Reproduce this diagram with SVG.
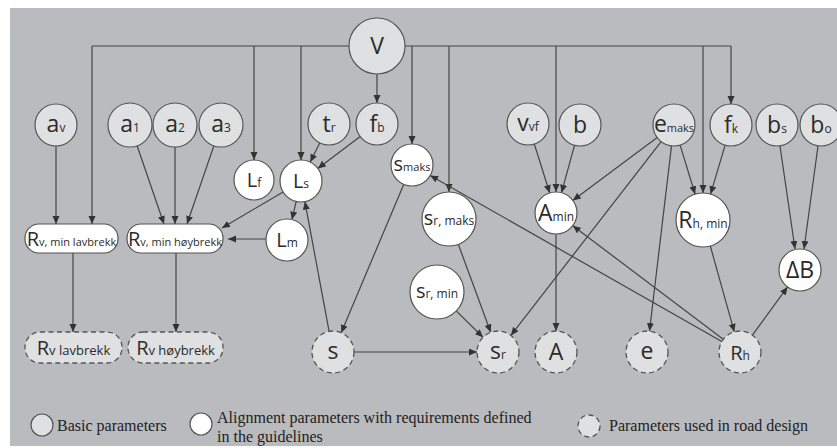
<svg xmlns="http://www.w3.org/2000/svg" width="837" height="448" viewBox="0 0 837 448">
<defs>
<marker id="ah" markerUnits="userSpaceOnUse" markerWidth="9" markerHeight="8" refX="8" refY="3.5" orient="auto">
<path d="M0,0 L8,3.5 L0,7 z" fill="#333"/>
</marker>
<style>
.bg{fill:#b9bbbe}
.basic{fill:#dfe0e2;stroke:#555;stroke-width:1.2}
.req{fill:#ffffff;stroke:#555;stroke-width:1.2}
.used{fill:#dfe0e2;stroke:#555;stroke-width:1.3;stroke-dasharray:5 3.5}
.e{fill:none;stroke:#444;stroke-width:1.2;marker-end:url(#ah)}
.ln{fill:none;stroke:#444;stroke-width:1.2}
text{font-family:"Open Sans","Noto Sans","DejaVu Sans",sans-serif;fill:#2b2b2b;text-anchor:middle}
.big{font-size:23px}
.mid{font-size:20px}
.sub{font-size:12px}
.sm{font-size:11px}
.leg{font-family:"Liberation Serif","DejaVu Serif",serif;font-size:16px;text-anchor:start;fill:#222}
</style>
</defs>
<rect class="bg" x="10" y="8" width="827" height="438"/>

<g id="connectors">
<path class="ln" d="M92,46 H731"/>
<path class="e" d="M92,46 V224"/>
<path class="e" d="M731,46 V104"/>
<path class="e" d="M254,46 V160"/>
<path class="e" d="M301,46 V160"/>
<path class="e" d="M412,46 V144"/>
<path class="e" d="M449,46 V192"/>
<path class="e" d="M556,46 V192"/>
<path class="e" d="M703,46 V193"/>
<path class="e" d="M377,74 V103"/>
<path class="e" d="M56,146 V224"/>
<path class="e" d="M137.1,145.8 L164,224"/>
<path class="e" d="M175,147 V224"/>
<path class="e" d="M213.9,145.8 L187,224"/>
<path class="e" d="M283.1,191.9 L222,228"/>
<path class="e" d="M266,239 H228"/>
<path class="e" d="M296.2,201.4 L291.9,219.6"/>
<path class="e" d="M329.1,331.4 L304.9,201.6"/>
<path class="e" d="M319.7,142.9 L310.3,162.1"/>
<path class="e" d="M360.2,136.6 L317.8,168.4"/>
<path class="e" d="M403.8,184.3 L341.2,332.7"/>
<path class="e" d="M354,352 H477"/>
<path class="e" d="M458.3,244.3 L490.7,332.3"/>
<path class="e" d="M456.2,310.9 L483,337.3"/>
<path class="e" d="M661.1,141.6 L510.9,335.4"/>
<path class="e" d="M657.2,137.6 L572.8,200.4"/>
<path class="e" d="M671.5,145.9 L649.5,331.1"/>
<path class="e" d="M680.1,145.1 L695.1,194.2"/>
<path class="e" d="M725.1,145.2 L710.6,194.1"/>
<path class="e" d="M534.3,144 L549.7,193"/>
<path class="e" d="M574.5,145.3 L561.5,192.7"/>
<path class="e" d="M556,234 V331"/>
<path class="e" d="M710.3,246 L734.3,331.8"/>
<path class="e" d="M752.4,335.1 L787.6,286.9"/>
<path class="e" d="M780,146 L795,249"/>
<path class="e" d="M818,146 L804,249"/>
<path class="e" d="M721.8,341.6 L430.2,175.4"/>
<path class="e" d="M723.2,339.3 L572.8,225.7"/>
<path class="e" d="M73,253 V332"/>
<path class="e" d="M176,253 V332"/>
</g>

<g id="V"><circle class="basic" cx="377" cy="46" r="28"/><text class="big" x="377" y="54">V</text></g>
<g id="av"><circle class="basic" cx="56" cy="125" r="21"/><text x="56" y="132"><tspan class="big">a</tspan><tspan class="sub">v</tspan></text></g>
<g id="a1"><circle class="basic" cx="130" cy="125" r="22"/><text x="130" y="132"><tspan class="big">a</tspan><tspan class="sub">1</tspan></text></g>
<g id="a2"><circle class="basic" cx="175" cy="125" r="22"/><text x="175" y="132"><tspan class="big">a</tspan><tspan class="sub">2</tspan></text></g>
<g id="a3"><circle class="basic" cx="221" cy="125" r="22"/><text x="221" y="132"><tspan class="big">a</tspan><tspan class="sub">3</tspan></text></g>
<g id="tr"><circle class="basic" cx="329" cy="124" r="21"/><text x="329" y="132"><tspan class="big">t</tspan><tspan class="sub">r</tspan></text></g>
<g id="fb"><circle class="basic" cx="377" cy="124" r="21"/><text x="377" y="132"><tspan class="big">f</tspan><tspan class="sub">b</tspan></text></g>
<g id="vvf"><circle class="basic" cx="528" cy="124" r="21"/><text x="528" y="131"><tspan class="big">v</tspan><tspan class="sub">vf</tspan></text></g>
<g id="b"><circle class="basic" cx="580" cy="125" r="21"/><text class="big" x="580" y="133">b</text></g>
<g id="emaks"><circle class="basic" cx="674" cy="125" r="21"/><text x="674" y="132"><tspan class="big">e</tspan><tspan class="sm">maks</tspan></text></g>
<g id="fk"><circle class="basic" cx="731" cy="125" r="21"/><text x="731" y="133"><tspan class="big">f</tspan><tspan class="sub">k</tspan></text></g>
<g id="bs"><circle class="basic" cx="777" cy="125" r="21"/><text x="777" y="133"><tspan class="big">b</tspan><tspan class="sub">s</tspan></text></g>
<g id="bo"><circle class="basic" cx="821" cy="125" r="21"/><text x="821" y="133"><tspan class="big">b</tspan><tspan class="sub">o</tspan></text></g>

<g id="Lf"><circle class="req" cx="254" cy="180" r="20"/><text x="254" y="187"><tspan class="mid">L</tspan><tspan class="sub">f</tspan></text></g>
<g id="Ls"><circle class="req" cx="301" cy="181" r="21"/><text x="301" y="188"><tspan class="mid">L</tspan><tspan class="sub">s</tspan></text></g>
<g id="Lm"><circle class="req" cx="287" cy="240" r="21"/><text x="287" y="247"><tspan class="mid">L</tspan><tspan class="sub">m</tspan></text></g>
<g id="smaks"><circle class="req" cx="412" cy="165" r="21"/><text x="412" y="171"><tspan class="mid">s</tspan><tspan class="sm">maks</tspan></text></g>
<g id="srmaks"><circle class="req" cx="449" cy="219" r="27"/><text x="449" y="225"><tspan class="mid">s</tspan><tspan class="sub">r, maks</tspan></text></g>
<g id="srmin"><circle class="req" cx="437" cy="292" r="27"/><text x="437" y="298"><tspan class="mid">s</tspan><tspan class="sub">r, min</tspan></text></g>
<g id="Amin"><circle class="req" cx="556" cy="213" r="21"/><text x="556" y="221"><tspan class="big">A</tspan><tspan class="sub">min</tspan></text></g>
<g id="Rhmin"><circle class="req" cx="703" cy="220" r="27"/><text x="703" y="228"><tspan class="big">R</tspan><tspan class="sub">h, min</tspan></text></g>
<g id="dB"><circle class="req" cx="800" cy="270" r="21"/><text class="big" x="800" y="278">ΔB</text></g>

<g id="Rvminlav"><rect class="req" x="25" y="224" width="93" height="29" rx="14"/><text x="71.5" y="246"><tspan class="mid">R</tspan><tspan class="sm">v, min lavbrekk</tspan></text></g>
<g id="Rvminhoy"><rect class="req" x="127" y="224" width="96" height="29" rx="14"/><text x="175" y="246"><tspan class="mid">R</tspan><tspan class="sm">v, min høybrekk</tspan></text></g>
<g id="Rvlav"><rect class="used" x="25" y="332" width="97" height="31" rx="15"/><text x="73.5" y="355"><tspan class="mid">R</tspan><tspan style="font-size:13px">v lavbrekk</tspan></text></g>
<g id="Rvhoy"><rect class="used" x="128" y="332" width="95" height="31" rx="15"/><text x="175.5" y="355"><tspan class="mid">R</tspan><tspan style="font-size:13px">v høybrekk</tspan></text></g>

<g id="s"><circle class="used" cx="333" cy="352" r="21"/><text class="big" x="333" y="359">s</text></g>
<g id="sr"><circle class="used" cx="498" cy="352" r="21"/><text x="498" y="359"><tspan class="big">s</tspan><tspan class="sub">r</tspan></text></g>
<g id="A"><circle class="used" cx="556" cy="352" r="21"/><text class="big" x="556" y="360">A</text></g>
<g id="e"><circle class="used" cx="647" cy="352" r="21"/><text class="big" x="647" y="359">e</text></g>
<g id="Rh"><circle class="used" cx="740" cy="352" r="21"/><text x="740" y="360"><tspan class="mid">R</tspan><tspan class="sub">h</tspan></text></g>

<g id="legend">
<circle class="basic" cx="42" cy="425" r="11"/>
<text class="leg" x="57" y="431">Basic parameters</text>
<circle class="req" cx="201" cy="424" r="11"/>
<text class="leg" x="217" y="423">Alignment parameters with requirements defined</text>
<text class="leg" x="217" y="442">in the guidelines</text>
<circle class="used" cx="589" cy="426" r="11"/>
<text class="leg" x="609" y="431">Parameters used in road design</text>
</g>
</svg>
